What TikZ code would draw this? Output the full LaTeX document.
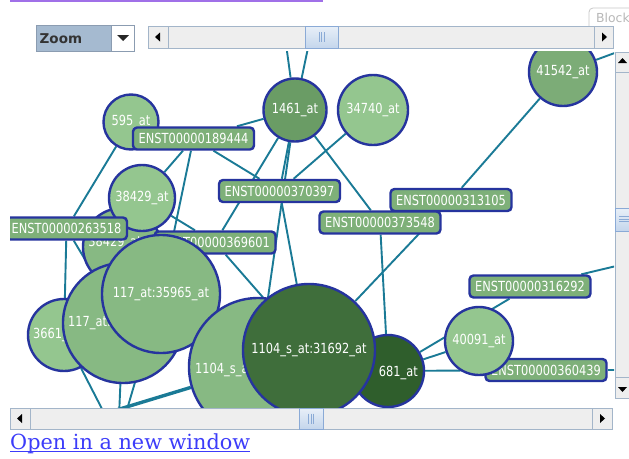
\documentclass[tikz,border=0pt]{standalone}
\usepackage{fontspec}
\newfontfamily\lblfont[FakeStretch=0.82]{DejaVu Sans}
\newfontfamily\uifont{DejaVu Sans}
\newfontfamily\linkfont{DejaVu Serif}
\pgfdeclarelayer{edges}
\pgfsetlayers{edges,main}

% network colours
\definecolor{edgec}{RGB}{26,122,150}
\definecolor{rimc}{RGB}{38,52,158}
\definecolor{gLight}{RGB}{148,198,143}
\definecolor{gMid}{RGB}{135,185,131}
\definecolor{gBox}{RGB}{126,176,121}
\definecolor{gMed}{RGB}{124,172,119}
\definecolor{gHub}{RGB}{106,156,101}
\definecolor{gDark}{RGB}{63,110,59}
\definecolor{gDarker}{RGB}{47,94,44}
% widget colours
\definecolor{trackc}{RGB}{238,238,238}
\definecolor{sbRim}{RGB}{163,181,201}
\definecolor{thumbTop}{RGB}{232,239,248}
\definecolor{thumbBot}{RGB}{196,214,236}
\definecolor{thumbRim}{RGB}{138,170,214}
\definecolor{comboFill}{RGB}{165,186,208}
\definecolor{comboRim}{RGB}{139,156,177}
\definecolor{tabRim}{RGB}{200,200,200}
\definecolor{linkblue}{RGB}{60,60,250}
\definecolor{linkpurple}{RGB}{160,112,232}

\newcommand\lblsize{\lblfont\fontsize{13.9}{16}\selectfont}

\begin{document}
\begin{tikzpicture}[x=1pt,y=-1pt,
  gnode/.style={circle, draw=rimc, line width=2.4pt, inner sep=0pt,
    text=white, font=\lblsize},
  gbox/.style={rectangle, rounded corners=4pt, draw=rimc, line width=2.4pt,
    fill=gBox, text=white, font=\lblsize, minimum width=121pt,
    minimum height=22pt, inner sep=0pt},
  lbl/.style={text=white, font=\lblsize, inner sep=0pt},
  edge/.style={draw=edgec, line width=1.9pt},
  thickedge/.style={draw=edgec, line width=3.4pt},
  track/.style={fill=trackc, draw=sbRim, line width=0.9pt},
  sbbutton/.style={fill=trackc, draw=sbRim, line width=0.9pt},
  thumb/.style={top color=thumbTop, bottom color=thumbBot, draw=thumbRim, line width=0.9pt},
  grip/.style={draw=thumbRim, line width=0.7pt},
]
\useasboundingbox (0,0) rectangle (629,458);

% ---------------- network nodes ----------------
\begin{scope}
\clip (10,51) rectangle (614,408);
\node[gnode, fill=gLight, minimum size=72pt] (n3661) at (64,335) {};
\node[lbl, anchor=west] (l3661) at (33,335) {3661\_at};
\node[gnode, fill=gMid, minimum size=78pt] (n38429b) at (122,247) {};
\node[lbl] (l38429b) at (115,243) {38429\_at};
\node[gnode, fill=gLight, minimum size=66pt] (n38429) at (142,198) {38429\_at};
\node[gbox] (e263518) at (66.5,228.5) {ENST00000263518};
\node[gnode, fill=gMid, minimum size=120pt] (n117) at (123,323) {};
\node[lbl, anchor=west] (l117) at (68,323) {117\_at:};
\node[gbox] (e369601) at (215,242.5) {ENST00000369601};
\node[gnode, fill=gMid, minimum size=118pt] (n117x) at (161,294) {117\_at:35965\_at};
\node[gnode, fill=gLight, minimum size=55pt] (n595) at (131,122) {595\_at};
\node[gbox] (e189444) at (193.5,138.5) {ENST00000189444};
\node[gnode, fill=gHub, minimum size=63pt] (n1461) at (295,110) {1461\_at};
\node[gnode, fill=gLight, minimum size=70pt] (n34740) at (373,110) {34740\_at};
\node[gnode, fill=gMed, minimum size=68pt] (n41542) at (563,72) {41542\_at};
\node[gbox] (e370397) at (279.5,191) {ENST00000370397};
\node[gbox] (e313105) at (451,200) {ENST00000313105};
\node[gbox] (e373548) at (380,222.5) {ENST00000373548};
\node[gnode, fill=gMid, minimum size=138pt] (n1104) at (258,367) {};
\node[lbl, anchor=west] (l1104) at (195,370) {1104\_s\_at};
\node[gnode, fill=gDarker, minimum size=72pt] (n681) at (388,371) {};
\node[lbl, anchor=east] (l681) at (418,373) {681\_at};
\node[gnode, fill=gDark, minimum size=132pt] (n31692) at (309,350) {1104\_s\_at:31692\_at};
\node[gbox] (e316292) at (530,286.5) {ENST00000316292};
\node[gbox] (e360439) at (546,370) {ENST00000360439};
\node[gnode, fill=gLight, minimum size=68pt] (n40091) at (479,341) {40091\_at};
% neighbours lying outside the visible area
\coordinate (t1) at (280,0);
\coordinate (t2) at (318,0);
\coordinate (t3) at (650,40);
\coordinate (t4) at (650,258);
\coordinate (t5) at (650,370);
\coordinate (b1) at (118,440);
\coordinate (b2) at (100,415);
\end{scope}

% ---------------- connectors, beneath the nodes ----------------
\begin{pgfonlayer}{edges}
\fill[white] (0,0) rectangle (629,458);
\begin{scope}
\clip (10,51) rectangle (614,408);
\draw[edge] (n1461) -- (t1);
\draw[edge] (n1461) -- (t2);
\draw[edge] (n41542) -- (t3);
\draw[edge] (e316292) -- (t4);
\draw[edge] (e360439) -- (t5);
\draw[edge] (n595) -- (e263518);
\draw[edge] (e263518) -- (n3661);
\draw[edge] (e263518) -- (n117);
\draw[edge] (e189444) -- (n1461);
\draw[edge] (e189444) -- (n38429);
\draw[edge] (e189444) -- (n117x);
\draw[edge] (e189444) -- (e370397);
\draw[edge] (n1461) -- (e369601);
\draw[edge] (n1461) -- (e370397);
\draw[edge] (n1461) -- (n1104);
\draw[edge] (n1461) -- (e373548);
\draw[edge] (e370397) -- (n31692);
\draw[edge] (n34740) -- (e370397);
\draw[edge] (n38429) -- (e369601);
\draw[edge] (e369601) -- (n31692);
\draw[edge] (n41542) -- (e313105);
\draw[edge] (e313105) -- (n31692);
\draw[edge] (e373548) -- (n681);
\draw[edge] (n681) -- (n40091);
\draw[edge] (n681) -- (e316292);
\draw[edge] (n681) -- (e360439);
\draw[edge] (n117x) -- (n1104);
\draw[edge] (n3661) -- (b1);
\draw[edge] (n117) -- (b1);
\draw[edge] (n117x) -- (b1);
\draw[thickedge] (n1104) -- (b2);
\end{scope}
\end{pgfonlayer}

% ---------------- surrounding widgets ----------------
% underline of the link above
\draw[linkpurple, line width=1.8pt] (10,0.9) -- (323,0.9);

% zoom selector
\filldraw[fill=comboFill, draw=comboRim, line width=0.9pt] (36,25) rectangle (111,51);
\filldraw[fill=white, draw=comboRim, line width=0.9pt] (111,25) rectangle (134,51);
\node[anchor=west, inner sep=0pt, text=black!80, font=\uifont\bfseries\fontsize{13.5}{15}\selectfont] (zoomlbl) at (39.5,38.5) {Zoom};
\fill[black!85] (117,35) -- (129,35) -- (123,41) -- cycle;

% "Block" tab
\draw[draw=tabRim, fill=white, line width=0.8pt, rounded corners=4pt] (589,27) -- (589,8) -- (645,8) -- (645,27);
\node[anchor=west, inner sep=0pt, text=black!28, font=\uifont\fontsize{12.4}{14}\selectfont] (blocklbl) at (596,17.5) {Block};

% top horizontal scrollbar
\filldraw[track] (148,26) rectangle (613,48);
\filldraw[sbbutton] (148,26) rectangle (168,48);
\fill[black] (155,37) -- (160,32.5) -- (160,41.5) -- cycle;
\filldraw[thumb] (305,26) rectangle (338,48);
\foreach \gx in {319,321.5,324} \draw[grip] (\gx,32) -- (\gx,42);
\filldraw[sbbutton] (594,26) rectangle (613,48);
\fill[black] (607,37) -- (602,32.5) -- (602,41.5) -- cycle;

% vertical scrollbar
\filldraw[track] (615,52) rectangle (632,398);
\filldraw[sbbutton] (615,52) rectangle (632,72);
\fill[black] (622.5,58) -- (618,63) -- (627,63) -- cycle;
\filldraw[thumb] (615,208) rectangle (632,231);
\foreach \gy in {216.5,219,221.5} \draw[grip] (619,\gy) -- (629,\gy);
\filldraw[sbbutton] (615,377) rectangle (632,398);
\fill[black] (622.5,392) -- (618,387) -- (627,387) -- cycle;

% bottom horizontal scrollbar
\filldraw[track] (10,408) rectangle (612,429);
\filldraw[sbbutton] (10,408) rectangle (30,429);
\fill[black] (17,418.5) -- (22,414) -- (22,423) -- cycle;
\filldraw[thumb] (299,408) rectangle (323,429);
\foreach \gx in {308.5,311,313.5} \draw[grip] (\gx,413.5) -- (\gx,423.5);
\filldraw[sbbutton] (592,408) rectangle (612,429);
\fill[black] (605,418.5) -- (600,414) -- (600,423) -- cycle;

% link below the view
\node[anchor=base west, inner sep=0pt, text=linkblue, font=\linkfont\fontsize{20.8}{24}\selectfont] (openlink) at (10,449) {Open in a new window};
\draw[linkblue, line width=1.1pt] ([yshift=-2.8pt]openlink.base west) -- ([yshift=-2.8pt]openlink.base east);
\end{tikzpicture}
\end{document}
